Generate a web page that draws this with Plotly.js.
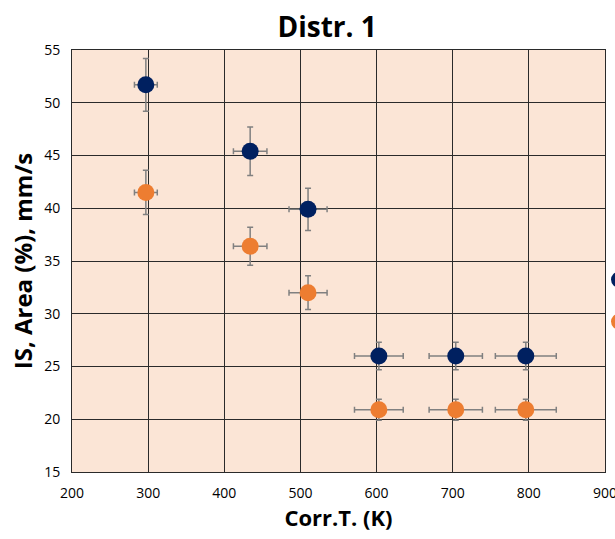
<!DOCTYPE html>
<html>
<head>
<meta charset="utf-8">
<script src="https://cdn.plot.ly/plotly-3.0.1.min.js"></script>
<style>
  html, body { margin: 0; padding: 0; background: #ffffff; overflow: hidden; }
  #chart { width: 615px; height: 539px; }
</style>
</head>
<body>
<div id="chart"></div>
<script>
// Corrected temperature (K) for each measurement
const corrT = [297, 434, 510, 603, 704, 796];
// Horizontal uncertainty on temperature (K)
const corrTErr = [15, 22, 25, 32, 35, 40];

// Isomer shift series
const isValues = [51.7, 45.4, 39.9, 26.0, 26.0, 26.0];
const isErr = [2.5, 2.3, 2.0, 1.3, 1.3, 1.3];

// Area fraction series
const areaValues = [41.5, 36.4, 32.0, 20.9, 20.9, 20.9];
const areaErr = [2.1, 1.8, 1.6, 1.0, 1.0, 1.0];

const xTicks = [200, 300, 400, 500, 600, 700, 800, 900];
const yTicks = [15, 20, 25, 30, 35, 40, 45, 50, 55];

const errStyle = { color: '#808080', thickness: 1.5, width: 3 };

function series(name, y, yErr, color, legendId) {
  return {
    type: 'scatter',
    mode: 'markers',
    name: name,
    x: corrT,
    y: y,
    legend: legendId,
    marker: { color: color, size: 17 },
    error_x: Object.assign({ type: 'data', array: corrTErr, visible: true }, errStyle),
    error_y: Object.assign({ type: 'data', array: yErr, visible: true }, errStyle),
    cliponaxis: false
  };
}

const data = [
  series('IS', isValues, isErr, '#002060', 'legend'),
  series('Area', areaValues, areaErr, '#ED7D31', 'legend2')
];

const font = "'Open Sans', 'Liberation Sans', sans-serif";

// Legends sit at the right page edge, placed in container coordinates
function legendAt(yPx) {
  return {
    xref: 'container', yref: 'container',
    x: 599 / 615, xanchor: 'left',
    y: 1 - yPx / 539, yanchor: 'middle',
    bgcolor: 'rgba(0,0,0,0)', borderwidth: 0,
    font: { family: font, size: 14 }
  };
}

const layout = {
  width: 615,
  height: 539,
  margin: { l: 72, r: 10, t: 50, b: 67, autoexpand: false },
  paper_bgcolor: '#ffffff',
  plot_bgcolor: '#FBE5D6',
  font: { family: font, color: '#000000', size: 13 },
  title: {
    text: '<b>Distr. 1</b>',
    font: { family: font, size: 28, color: '#000000' },
    xref: 'container', x: 0.532, xanchor: 'center',
    yref: 'container', y: 0.95, yanchor: 'middle'
  },
  xaxis: {
    range: [200, 900],
    tickvals: xTicks,
    ticks: '',
    ticklabelstandoff: 8,
    ticklabeloverflow: 'allow',
    showgrid: true,
    gridcolor: '#2a2a2a',
    gridwidth: 1,
    showline: true,
    linecolor: '#2a2a2a',
    linewidth: 1,
    mirror: true,
    zeroline: false,
    automargin: false,
    tickfont: { family: font, size: 14, color: '#000000' },
    title: { text: '<b>Corr.T. (K)</b>', font: { family: font, size: 22, color: '#000000' }, standoff: 8 }
  },
  yaxis: {
    range: [15, 55],
    tickvals: yTicks,
    ticks: '',
    ticklabelstandoff: 8,
    ticklabeloverflow: 'allow',
    showgrid: true,
    gridcolor: '#2a2a2a',
    gridwidth: 1,
    showline: true,
    linecolor: '#2a2a2a',
    linewidth: 1,
    mirror: true,
    zeroline: false,
    automargin: false,
    tickfont: { family: font, size: 14, color: '#000000' },
    title: { text: '<b>IS, Area (%), mm/s</b>', font: { family: font, size: 24, color: '#000000' }, standoff: 4 }
  },
  legend: legendAt(280),
  legend2: legendAt(322),
  showlegend: true
};

Plotly.newPlot('chart', data, layout, { displayModeBar: false, staticPlot: true });
</script>
</body>
</html>
